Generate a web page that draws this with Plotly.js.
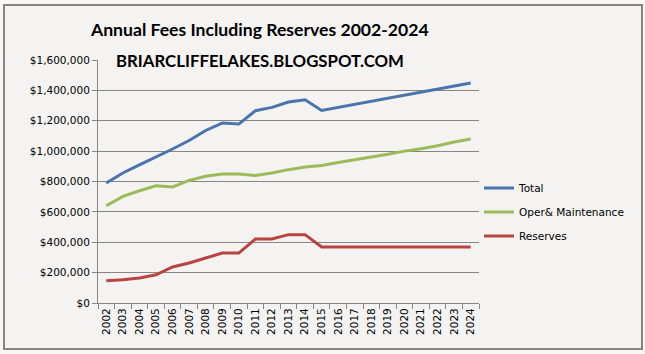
<!DOCTYPE html>
<html>
<head>
<meta charset="utf-8">
<script src="https://cdn.plot.ly/plotly-3.0.1.min.js"></script>
<style>
html,body{margin:0;padding:0;width:645px;height:354px;overflow:hidden;background:#f8f7f5;}
#frame{position:absolute;left:3px;top:4px;width:636px;height:342px;border:2px solid #858585;background:#f4f3f1;}
#chart{position:absolute;left:0;top:0;width:645px;height:354px;}
</style>
</head>
<body>
<div id="frame"></div>
<div id="chart"></div>
<script>
const years = ["2002","2003","2004","2005","2006","2007","2008","2009","2010","2011","2012","2013","2014","2015","2016","2017","2018","2019","2020","2021","2022","2023","2024"];
const total = [790000,856000,910000,961000,1014000,1070000,1136000,1185000,1178000,1266000,1288000,1323000,1338000,1268000,1288000,1308000,1328000,1348000,1368000,1390000,1408000,1428000,1448000];
const operMaintenance = [640000,702000,739000,772000,764000,807000,834000,849000,849000,840000,856000,878000,895000,906000,925000,945000,960000,980000,1000000,1015000,1035000,1060000,1080000];
const reserves = [147000,153000,165000,186000,237000,263000,296000,329000,329000,421000,421000,450000,450000,369000,369000,369000,369000,369000,369000,369000,369000,369000,369000];
const yTicks = [0,200000,400000,600000,800000,1000000,1200000,1400000,1600000];
const yTickText = ["$0","$200,000","$400,000","$600,000","$800,000","$1,000,000","$1,200,000","$1,400,000","$1,600,000"];

const traces = [
  {x: years, y: total, name: "Total", type: "scatter", mode: "lines", line: {color: "#4a74ad", width: 3}, legendgroup: "a"},
  {x: years, y: operMaintenance, name: "Oper& Maintenance", type: "scatter", mode: "lines", line: {color: "#9bbb59", width: 3}, legendgroup: "b"},
  {x: years, y: reserves, name: "Reserves", type: "scatter", mode: "lines", line: {color: "#b9443f", width: 3}, legendgroup: "c"}
];

const layout = {
  width: 645, height: 354,
  margin: {l: 98, r: 166, t: 60, b: 51, pad: 0},
  paper_bgcolor: "rgba(0,0,0,0)",
  plot_bgcolor: "rgba(0,0,0,0)",
  font: {family: "DejaVu Sans, sans-serif", size: 10, color: "#000"},
  showlegend: true,
  legend: {x: 1.0, y: 0.375, xanchor: "left", yanchor: "middle", traceorder: "grouped", tracegroupgap: 5, font: {family: "DejaVu Sans", size: 10.5, color: "#000"}, bgcolor: "rgba(0,0,0,0)"},
  xaxis: {
    type: "category", tickson: "boundaries", ticks: "outside", ticklen: 5, tickcolor: "#868686",
    showline: true, linecolor: "#868686", linewidth: 1, showgrid: false,
    tickangle: -90, tickfont: {family: "DejaVu Sans", size: 10.5}, range: [-0.5, 22.5], fixedrange: true
  },
  yaxis: {
    range: [0, 1600000], tickvals: yTicks, ticktext: yTickText, ticks: "outside", ticklen: 5, tickcolor: "#868686",
    showline: true, linecolor: "#868686", linewidth: 1, showgrid: true, gridcolor: "#868686", gridwidth: 1,
    zeroline: false, tickfont: {family: "DejaVu Sans", size: 10.5}, fixedrange: true
  },
  annotations: [
    {text: "<b>Annual Fees Including Reserves 2002-2024</b>", xref: "paper", yref: "paper", x: 0.425, y: 1.125, xanchor: "center", yanchor: "middle", showarrow: false, font: {family: "Lato, sans-serif", size: 17.6, color: "#000"}},
    {text: "<b>BRIARCLIFFELAKES.BLOGSPOT.COM</b>", xref: "paper", yref: "paper", x: 0.425, y: 1.0, xanchor: "center", yanchor: "middle", showarrow: false, font: {family: "Lato, sans-serif", size: 16.8, color: "#000"}}
  ]
};

Plotly.newPlot("chart", traces, layout, {displayModeBar: false, staticPlot: true});
</script>
</body>
</html>
